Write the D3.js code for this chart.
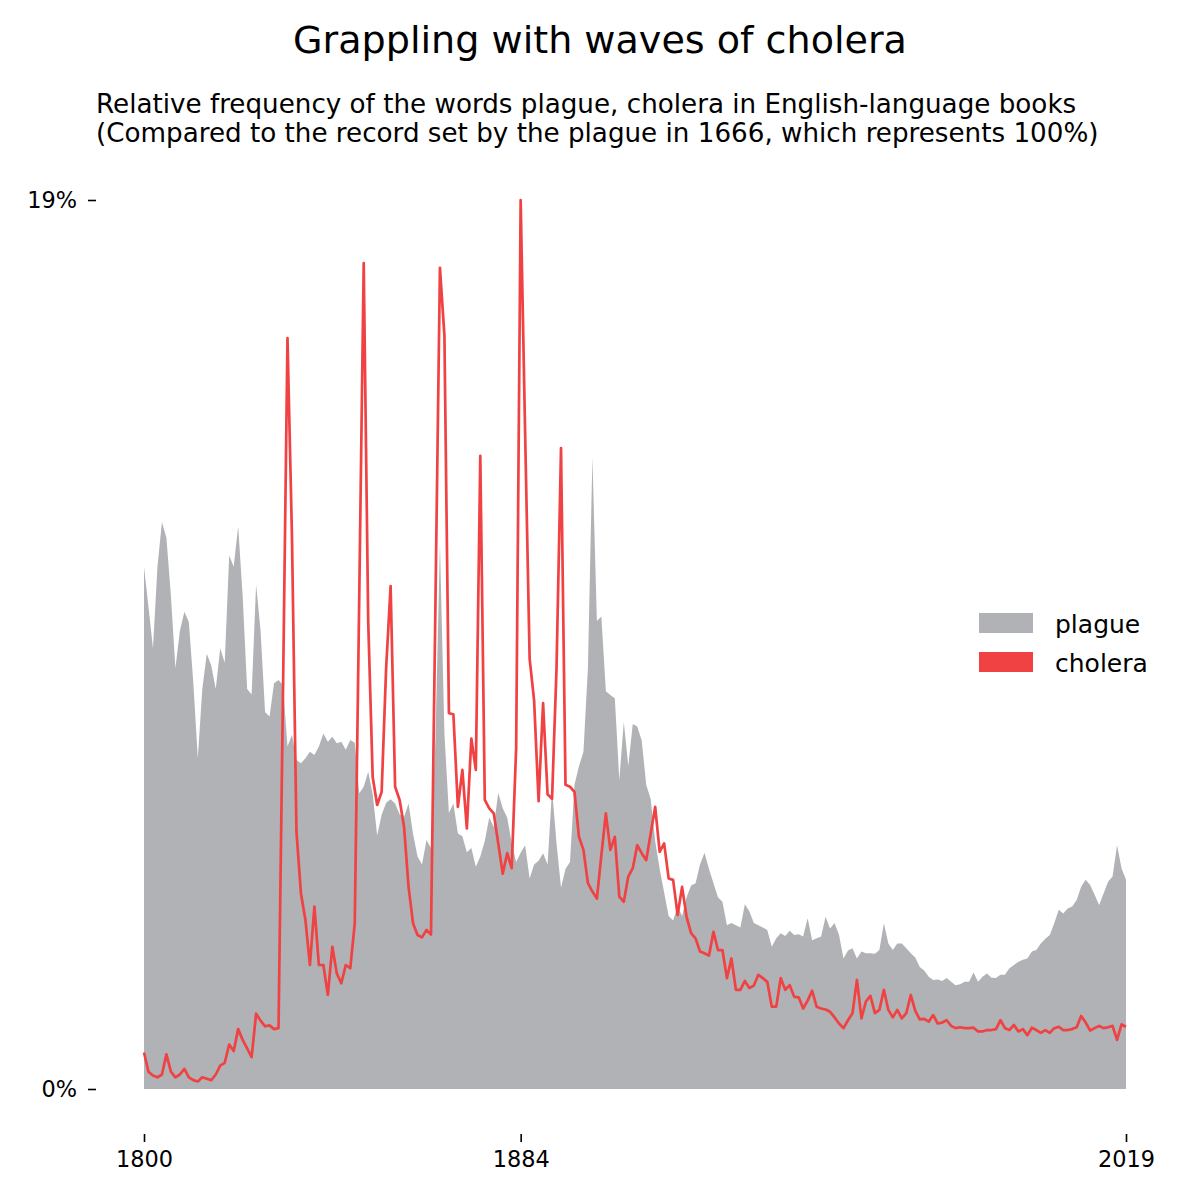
<!DOCTYPE html>
<html>
<head>
<meta charset="utf-8">
<title>Grappling with waves of cholera</title>
<script src="https://cdn.jsdelivr.net/npm/d3@7"></script>
<style>
  body { margin: 0; background: #fff; }
  svg { font-family: "DejaVu Sans", sans-serif; }
</style>
</head>
<body>
<div id="chart"></div>
<script>
// years 1800..2019, one value per year (percent of the 1666 plague record)
var years = d3.range(1800, 2020);

var plague = [
  11.16, 10.3, 9.42, 11.16, 12.12, 11.78, 10.54, 8.99, 9.79, 10.2,
  9.98, 8.68, 7.07, 8.55, 9.30, 9.05, 8.55, 9.42, 9.11, 11.40,
  11.16, 12.02, 10.54, 8.55, 8.43, 10.78, 9.79, 8.06, 7.96, 8.67,
  8.74, 8.63, 7.32, 7.57, 7.03, 6.96, 7.07, 7.21, 7.14, 7.32,
  7.60, 7.42, 7.53, 7.39, 7.42, 7.25, 7.46, 7.40, 6.32, 6.46,
  6.78, 6.30, 5.42, 5.86, 6.12, 6.19, 6.10, 5.87, 5.82, 6.10,
  5.45, 4.97, 4.80, 5.32, 5.15, 7.50, 11.65, 7.60, 5.90, 6.10,
  5.46, 5.40, 5.06, 5.15, 4.75, 4.97, 5.30, 5.80, 5.60, 6.33,
  6.00, 5.80, 5.25, 4.85, 5.05, 5.21, 4.50, 4.80, 4.88, 5.04,
  4.80, 6.40, 5.25, 4.30, 4.70, 4.85, 6.50, 6.90, 7.20, 9.00,
  13.5, 10.0, 10.1, 8.50, 8.42, 8.35, 6.60, 7.85, 6.90, 7.80,
  7.75, 7.45, 6.50, 6.20, 5.30, 4.70, 4.20, 3.70, 3.60, 3.90,
  3.70, 4.10, 4.35, 4.40, 4.80, 5.05, 4.70, 4.40, 4.10, 4.00,
  3.50, 3.55, 3.50, 3.45, 3.95, 3.80, 3.55, 3.50, 3.45, 3.40,
  3.04, 3.22, 3.33, 3.27, 3.38, 3.29, 3.31, 3.26, 3.65, 3.18,
  3.22, 3.26, 3.68, 3.43, 3.55, 3.29, 2.79, 2.96, 3.01, 2.79,
  2.94, 2.90, 2.90, 2.89, 2.97, 3.54, 3.11, 2.97, 3.11, 3.11,
  3.01, 2.90, 2.81, 2.61, 2.53, 2.40, 2.33, 2.34, 2.31, 2.37,
  2.29, 2.22, 2.24, 2.29, 2.29, 2.49, 2.29, 2.40, 2.47, 2.38,
  2.37, 2.44, 2.44, 2.58, 2.65, 2.72, 2.76, 2.79, 2.94, 2.97,
  3.11, 3.21, 3.29, 3.54, 3.83, 3.75, 3.86, 3.90, 4.04, 4.32,
  4.47, 4.36, 4.15, 3.93, 4.18, 4.43, 4.54, 5.21, 4.72, 4.47
];

var cholera = [
  0.78, 0.37, 0.29, 0.25, 0.31, 0.74, 0.37, 0.25, 0.31, 0.43,
  0.25, 0.19, 0.16, 0.25, 0.22, 0.19, 0.31, 0.50, 0.56, 0.95,
  0.81, 1.28, 1.05, 0.87, 0.68, 1.61, 1.46, 1.34, 1.36, 1.28,
  1.30, 8.50, 16.05, 11.80, 5.50, 4.18, 3.61, 2.65, 3.90, 2.65,
  2.65, 2.01, 3.04, 2.47, 2.26, 2.65, 2.58, 3.54, 10.5, 17.65,
  10.0, 6.67, 6.07, 6.35, 9.00, 10.75, 6.46, 6.18, 5.60, 4.32,
  3.54, 3.29, 3.24, 3.40, 3.30, 10.4, 17.55, 16.1, 8.03, 8.01,
  6.03, 6.82, 5.57, 7.49, 6.82, 13.53, 6.18, 6.00, 5.89, 5.25,
  4.60, 5.04, 4.72, 7.30, 19.0, 14.0, 9.20, 8.30, 6.15, 8.25,
  6.30, 6.20, 9.00, 13.7, 6.50, 6.46, 6.35, 5.39, 5.11, 4.40,
  4.22, 4.07, 5.00, 5.89, 5.11, 5.39, 4.11, 4.00, 4.54, 4.72,
  5.21, 5.04, 4.89, 5.46, 6.03, 5.07, 5.25, 4.50, 4.47, 3.72,
  4.32, 3.68, 3.33, 3.22, 2.94, 2.90, 2.85, 3.36, 2.97, 2.97,
  2.37, 2.79, 2.12, 2.12, 2.31, 2.16, 2.21, 2.44, 2.37, 2.29,
  1.76, 1.76, 2.37, 2.12, 2.22, 1.97, 1.96, 1.72, 1.89, 2.10,
  1.76, 1.72, 1.70, 1.65, 1.53, 1.40, 1.30, 1.47, 1.62, 2.33,
  1.51, 1.87, 1.99, 1.62, 1.69, 2.12, 1.69, 1.53, 1.69, 1.51,
  1.62, 2.01, 1.67, 1.49, 1.50, 1.44, 1.58, 1.40, 1.42, 1.47,
  1.35, 1.30, 1.32, 1.30, 1.30, 1.31, 1.23, 1.23, 1.26, 1.26,
  1.28, 1.47, 1.30, 1.26, 1.37, 1.23, 1.28, 1.15, 1.31, 1.26,
  1.20, 1.26, 1.20, 1.30, 1.33, 1.26, 1.26, 1.28, 1.32, 1.56,
  1.42, 1.25, 1.30, 1.35, 1.30, 1.32, 1.35, 1.05, 1.38, 1.33
];

var xTicks = [1800, 1884, 2019];
var yTicks = [0, 19];
var seriesNames = ["plague", "cholera"];
var seriesColors = ["#b1b2b6", "#f04143"];

var width = 1200, height = 1200;
var svg = d3.select("#chart").append("svg")
    .attr("width", width)
    .attr("height", height);

var x = d3.scaleLinear().domain([1800, 2019]).range([144, 1126]);
var y = d3.scaleLinear().domain([0, 19]).range([1089, 200]);

// plague as filled area
var area = d3.area()
    .x(function(d, i){ return x(years[i]); })
    .y0(y(0))
    .y1(function(d){ return y(d); });

svg.append("path")
    .datum(plague)
    .attr("fill", seriesColors[0])
    .attr("d", area);

// cholera as line
var line = d3.line()
    .x(function(d, i){ return x(years[i]); })
    .y(function(d){ return y(d); });

svg.append("path")
    .datum(cholera)
    .attr("fill", "none")
    .attr("stroke", seriesColors[1])
    .attr("stroke-width", 2.7)
    .attr("stroke-linejoin", "round")
    .attr("d", line);

// axes, no spines
var xAxis = d3.axisBottom(x)
    .tickValues(xTicks)
    .tickFormat(d3.format("d"))
    .tickSize(8)
    .tickPadding(9);

var gx = svg.append("g")
    .attr("transform", "translate(0,1134)")
    .call(xAxis);

var yAxis = d3.axisLeft(y)
    .tickValues(yTicks)
    .tickFormat(function(d){ return d + "%"; })
    .tickSize(8)
    .tickPadding(11);

var gy = svg.append("g")
    .attr("transform", "translate(96,0)")
    .call(yAxis);

[gx, gy].forEach(function(g){
    g.select(".domain").remove();
    g.selectAll(".tick line").attr("stroke", "#000").attr("stroke-width", 1.6);
    g.selectAll(".tick text")
        .attr("fill", "#000")
        .style("font-family", "DejaVu Sans")
        .style("font-size", "22.4px");
});

// titles
svg.append("text")
    .attr("x", 600)
    .attr("y", 53)
    .attr("text-anchor", "middle")
    .style("font-size", "38.1px")
    .text("Grappling with waves of cholera");

var sub = svg.append("text")
    .attr("x", 96)
    .attr("y", 113)
    .style("font-size", "26.2px");
sub.append("tspan").attr("x", 96).attr("y", 113)
    .text("Relative frequency of the words plague, cholera in English-language books");
sub.append("tspan").attr("x", 96).attr("y", 142)
    .text("(Compared to the record set by the plague in 1666, which represents 100%)");

// legend
var legend = svg.append("g");
var lg = legend.selectAll("g")
    .data(seriesNames)
    .enter()
    .append("g")
    .attr("transform", function(d, i){ return "translate(979," + (613 + i * 39) + ")"; });

lg.append("rect")
    .attr("width", 54)
    .attr("height", 20)
    .attr("fill", function(d, i){ return seriesColors[i]; });

lg.append("text")
    .attr("x", 76)
    .attr("y", 20)
    .style("font-size", "25px")
    .text(function(d){ return d; });
</script>
</body>
</html>
